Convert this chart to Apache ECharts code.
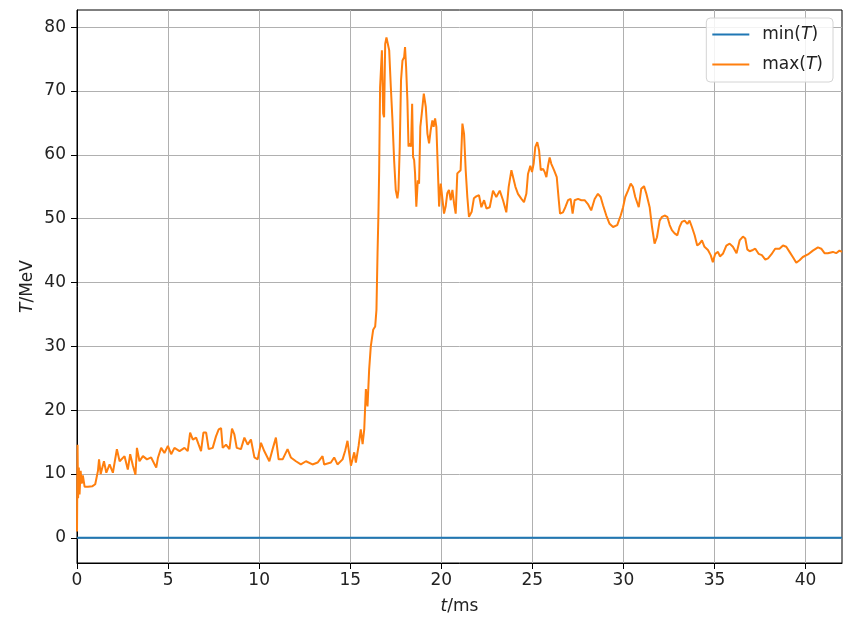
<!DOCTYPE html>
<html>
<head>
<meta charset="utf-8">
<script src="https://cdn.jsdelivr.net/npm/echarts@6/dist/echarts.min.js"></script>
<style>
html,body{margin:0;padding:0;background:#fff;}
#chart{width:843px;height:618px;}
</style>
</head>
<body>
<div id="chart"></div>
<script>
// time in ms
const timeMs = [
0, 0.03, 0.06, 0.1, 0.14, 0.2, 0.26, 0.32, 0.42, 0.6, 0.85, 1.0, 1.1, 1.15, 1.21, 1.3, 1.48, 1.61, 1.79, 1.97,
2.19, 2.34, 2.61, 2.79, 2.92, 3.07, 3.21, 3.29, 3.43, 3.62, 3.84, 4.07, 4.35, 4.44, 4.62, 4.80, 4.99, 5.17, 5.35, 5.63,
5.90, 6.08, 6.21, 6.36, 6.54, 6.68, 6.81, 6.94, 7.09, 7.23, 7.45, 7.63, 7.78, 7.91, 8.0, 8.18, 8.37, 8.51, 8.64, 8.77,
9.0, 9.19, 9.37, 9.55, 9.74, 9.92, 10.10, 10.28, 10.56, 10.74, 10.92, 11.07, 11.29, 11.56, 11.74, 12.02, 12.29, 12.57, 12.93, 13.21,
13.48, 13.57, 13.94, 14.12, 14.30, 14.58, 14.72, 14.85, 15.04, 15.22, 15.31, 15.46, 15.58, 15.68, 15.77, 15.86, 15.95, 16.04, 16.13, 16.26,
16.37, 16.44, 16.50, 16.55, 16.59, 16.64, 16.74, 16.81, 16.86, 16.92, 16.99, 17.06, 17.14, 17.23, 17.32, 17.41, 17.50, 17.59, 17.65, 17.72,
17.79, 17.87, 17.96, 18.01, 18.07, 18.14, 18.20, 18.27, 18.34, 18.40, 18.45, 18.51, 18.56, 18.63, 18.71, 18.78, 18.85, 18.93, 19.04, 19.15,
19.24, 19.33, 19.42, 19.51, 19.58, 19.66, 19.73, 19.80, 19.88, 19.97, 20.06, 20.15, 20.24, 20.33, 20.42, 20.52, 20.61, 20.70, 20.79, 20.88,
20.97, 21.06, 21.16, 21.25, 21.34, 21.43, 21.52, 21.67, 21.79, 21.92, 22.07, 22.20, 22.35, 22.48, 22.66, 22.84, 23.02, 23.21, 23.39, 23.57,
23.70, 23.85, 23.94, 24.07, 24.21, 24.40, 24.54, 24.67, 24.76, 24.89, 24.98, 25.07, 25.16, 25.27, 25.37, 25.46, 25.59, 25.68, 25.77, 25.86,
25.95, 26.04, 26.19, 26.34, 26.45, 26.52, 26.68, 26.81, 26.96, 27.10, 27.21, 27.32, 27.51, 27.69, 27.87, 28.05, 28.23, 28.42, 28.60, 28.75,
28.88, 29.06, 29.24, 29.43, 29.66, 29.85, 29.98, 30.10, 30.25, 30.40, 30.52, 30.65, 30.84, 30.98, 31.13, 31.26, 31.44, 31.57, 31.71, 31.84,
31.99, 32.12, 32.26, 32.41, 32.54, 32.66, 32.81, 32.96, 33.08, 33.21, 33.36, 33.51, 33.63, 33.76, 33.91, 34.05, 34.18, 34.31, 34.45, 34.64,
34.79, 34.91, 35.04, 35.19, 35.30, 35.46, 35.65, 35.83, 36.01, 36.21, 36.38, 36.56, 36.69, 36.80, 36.93, 37.11, 37.24, 37.42, 37.60, 37.79,
37.94, 38.12, 38.33, 38.57, 38.76, 38.94, 39.12, 39.30, 39.49, 39.67, 39.85, 40.13, 40.40, 40.68, 40.86, 41.04, 41.22, 41.50, 41.68, 41.86,
42.0
];
// max(T) in MeV
const maxT = [
1.0, 14.6, 6.2, 11.0, 6.8, 10.5, 8.5, 9.8, 8.0, 8.0, 8.1, 8.4, 8.6, 10.5, 12.3, 10.0, 12.0, 10.2, 11.5, 10.2,
13.9, 12.0, 12.8, 10.7, 13.1, 11.3, 9.9, 14.1, 12.0, 12.8, 12.3, 12.6, 11.0, 12.5, 14.1, 13.3, 14.4, 13.1, 14.1, 13.6,
14.1, 13.6, 16.5, 15.4, 15.7, 14.6, 13.6, 16.5, 16.5, 13.9, 14.1, 15.9, 17.0, 17.2, 14.1, 14.6, 13.9, 17.1, 16.2, 14.1,
13.9, 15.7, 14.6, 15.4, 12.6, 12.3, 14.9, 13.6, 12.0, 13.9, 15.7, 12.3, 12.3, 13.9, 12.6, 12.0, 11.5, 12.0, 11.5, 11.8,
12.8, 11.5, 11.8, 12.6, 11.5, 12.3, 13.6, 15.2, 11.3, 13.4, 11.8, 14.4, 17.0, 14.7, 17.0, 23.3, 20.6, 26.4, 30.0, 32.6,
33.1, 35.7, 44.6, 50.8, 57.6, 70.6, 76.4, 66.5, 65.9, 77.4, 78.4, 78.7, 76.4, 70.6, 65.4, 59.2, 54.5, 53.2, 54.5, 61.3,
71.7, 74.8, 75.3, 76.9, 73.7, 68.5, 61.3, 61.8, 61.3, 68.0, 59.7, 59.2, 57.1, 51.9, 56.0, 55.5, 64.4, 66.5, 69.6, 67.5,
63.3, 61.8, 63.9, 65.4, 64.4, 65.7, 64.4, 58.7, 51.9, 55.5, 55.8, 50.8, 51.9, 54.0, 54.5, 52.9, 54.5, 52.4, 50.8, 57.1,
57.4, 57.6, 64.9, 63.3, 57.6, 53.4, 50.3, 51.1, 53.2, 53.5, 53.7, 51.8, 52.9, 51.6, 51.8, 54.4, 53.4, 54.4, 52.9, 51.0,
55.0, 57.6, 57.8, 55.0, 53.9, 53.1, 52.6, 53.9, 57.0, 58.3, 57.3, 58.6, 61.2, 62.0, 60.7, 57.6, 57.8, 57.3, 56.5, 58.3,
59.6, 58.6, 57.6, 56.5, 52.9, 50.8, 51.0, 51.8, 52.9, 53.1, 50.8, 52.9, 53.1, 52.9, 52.9, 52.3, 51.3, 53.1, 53.9, 53.4,
52.1, 50.5, 49.2, 48.7, 49.0, 50.5, 51.8, 53.4, 54.4, 55.5, 55.0, 53.4, 51.8, 54.7, 55.1, 53.9, 51.8, 48.7, 46.1, 47.1,
49.7, 50.3, 50.5, 50.3, 49.0, 48.2, 47.7, 47.4, 48.7, 49.5, 49.7, 49.2, 49.7, 48.7, 47.4, 45.8, 46.1, 46.6, 45.6, 45.1,
44.3, 43.2, 44.5, 44.8, 44.1, 44.5, 45.8, 46.1, 45.6, 44.6, 46.6, 47.2, 46.9, 45.2, 44.9, 45.1, 45.3, 44.5, 44.3, 43.6,
43.8, 44.4, 45.3, 45.3, 45.8, 45.6, 44.8, 44.0, 43.1, 43.5, 44.0, 44.4, 45.0, 45.5, 45.3, 44.6, 44.6, 44.8, 44.6, 45.0,
44.8
];
// min(T) in MeV (constant zero over whole run)
const minTimes = [0, 42.0];
const minT = [0, 0];

const xTicks = [0, 5, 10, 15, 20, 25, 30, 35, 40];
const yTicks = [0, 10, 20, 30, 40, 50, 60, 70, 80];

const FONT = 'DejaVu Sans';
const FS = 17;
const TXT = '#222';
const chart = echarts.init(document.getElementById('chart'), null, {renderer: 'canvas'});

const zip = (a, b) => a.map((v, i) => [v, b[i]]);

function fmt(v, ticks) {
  for (const t of ticks) if (Math.abs(v - t) < 1e-6) return String(t);
  return '';
}
const richTxt = {
  n: {fontFamily: FONT, fontSize: FS, color: TXT},
  i: {fontFamily: FONT, fontSize: FS, color: TXT, fontStyle: 'italic'}
};

const option = {
  backgroundColor: '#fff',
  animation: false,
  grid: {
    left: 77, right: 1, top: 10, bottom: 55,
    containLabel: false, outerBoundsMode: 'none',
    show: true, borderColor: '#000', borderWidth: 1, backgroundColor: 'transparent'
  },
  legend: {
    orient: 'vertical',
    right: 10, top: 18,
    icon: 'rect',
    itemWidth: 37, itemHeight: 2, itemGap: 13,
    padding: [8, 10, 9, 6],
    backgroundColor: 'rgba(255,255,255,0.85)',
    borderColor: '#d4d4d4', borderWidth: 1, borderRadius: 4,
    data: ['min(T)', 'max(T)'],
    formatter: function (name) {
      const base = name.replace('(T)', '');
      return '{n|' + base + '(}{i|T}{n|)}';
    },
    textStyle: {
      fontFamily: FONT, fontSize: FS, color: TXT, padding: [0, 0, 0, 8],
      rich: richTxt
    }
  },
  xAxis: {
    type: 'value', min: 0, max: 42.0, interval: 5,
    name: '{i|t}{n|/ms}', nameLocation: 'middle', nameGap: 35,
    nameTextStyle: {rich: richTxt},
    axisLine: {show: true, onZero: false, lineStyle: {color: '#000', width: 1}},
    axisTick: {show: true, length: 6, inside: false, customValues: xTicks, lineStyle: {color: '#000'}},
    axisLabel: {
      show: true, margin: 9, customValues: xTicks,
      fontFamily: FONT, fontSize: FS, color: TXT,
      formatter: v => fmt(v, xTicks)
    },
    splitLine: {show: true, lineStyle: {color: '#b0b0b0', width: 1}}
  },
  yAxis: {
    type: 'value', min: -3.94, max: 82.7, interval: 10,
    name: '{i|T}{n|/MeV}', nameLocation: 'middle', nameGap: 41, nameRotate: 90,
    nameMoveOverlap: false,
    nameTextStyle: {rich: richTxt},
    axisLine: {show: true, onZero: false, lineStyle: {color: '#000', width: 1}},
    axisTick: {show: true, length: 6, inside: false, customValues: yTicks, lineStyle: {color: '#000'}},
    axisLabel: {
      show: true, margin: 11, customValues: yTicks,
      fontFamily: FONT, fontSize: FS, color: TXT,
      formatter: v => fmt(v, yTicks)
    },
    splitLine: {show: true, lineStyle: {color: '#b0b0b0', width: 1}}
  },
  series: [
    {
      name: 'min(T)', type: 'line', data: zip(minTimes, minT),
      symbol: 'none', showSymbol: false,
      lineStyle: {color: '#1f77b4', width: 2}, itemStyle: {color: '#1f77b4'},
      z: 3
    },
    {
      name: 'max(T)', type: 'line', data: zip(timeMs, maxT),
      symbol: 'none', showSymbol: false,
      lineStyle: {color: '#ff7f0e', width: 2}, itemStyle: {color: '#ff7f0e'},
      z: 4
    }
  ]
};
chart.setOption(option);
</script>
</body>
</html>
